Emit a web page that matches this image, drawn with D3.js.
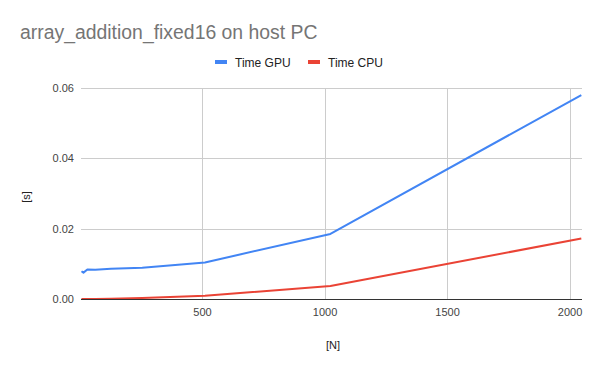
<!DOCTYPE html>
<html>
<head>
<meta charset="utf-8">
<script src="https://cdn.jsdelivr.net/npm/d3@7"></script>
<style>
  body { margin: 0; background: #fff; }
  text { font-family: Arial, "Liberation Sans", sans-serif; }
</style>
</head>
<body>
<svg id="chart" width="600" height="371"></svg>
<script>
// values
var sizes = [8, 16, 32, 64, 128, 256, 512, 1024, 2048];
var timeGpu = [0.0079, 0.0075, 0.0084, 0.0083, 0.0086, 0.0089, 0.0104, 0.0185, 0.0580];
var timeCpu = [0.0000, 0.0000, 0.0000, 0.0000, 0.0001, 0.0003, 0.0009, 0.0037, 0.0172];
var xTicks = [500, 1000, 1500, 2000];
var yTicks = [0, 0.02, 0.04, 0.06];

var series = [
  { name: 'Time GPU', values: timeGpu, color: '#4285f4' },
  { name: 'Time CPU', values: timeCpu, color: '#ea4335' }
];

var svg = d3.select('#chart');

var x = d3.scaleLinear().domain([8, 2048]).range([81.5, 581.3]);
var y = d3.scaleLinear().domain([0, 0.06]).range([299, 88]);

// title
svg.append('text')
  .attr('x', 20).attr('y', 39)
  .attr('font-size', 19.4)
  .attr('fill', '#757575')
  .text('array_addition_fixed16 on host PC');

// gridlines
svg.append('g')
  .selectAll('line.h')
  .data(yTicks.slice(1))
  .enter().append('line')
  .attr('x1', 81).attr('x2', 582)
  .attr('y1', function(d) { return Math.round(y(d)) + 0.5; })
  .attr('y2', function(d) { return Math.round(y(d)) + 0.5; })
  .attr('stroke', '#cccccc');

svg.append('g')
  .selectAll('line.v')
  .data(xTicks)
  .enter().append('line')
  .attr('y1', 88).attr('y2', 299)
  .attr('x1', function(d) { return Math.round(x(d)) + 0.5; })
  .attr('x2', function(d) { return Math.round(x(d)) + 0.5; })
  .attr('stroke', '#cccccc');

// y axis labels
var yAxis = d3.axisLeft(y).tickValues(yTicks).tickFormat(d3.format('.2f')).tickSize(0).tickPadding(7);
var gy = svg.append('g').attr('transform', 'translate(81,0)').call(yAxis);
gy.select('.domain').remove();
gy.selectAll('text').attr('font-size', 11).attr('fill', '#444').attr('font-family', 'Arial, "Liberation Sans", sans-serif');

// x axis
var xAxis = d3.axisBottom(x).tickValues(xTicks).tickFormat(d3.format('d')).tickSize(0).tickPadding(9);
var gx = svg.append('g').attr('transform', 'translate(0,299)').call(xAxis);
gx.select('.domain').remove();
gx.selectAll('text').attr('font-size', 11).attr('fill', '#444').attr('font-family', 'Arial, "Liberation Sans", sans-serif');

// lines
var line = d3.line()
  .x(function(d, i) { return x(sizes[i]); })
  .y(function(d) { return y(d); });

series.slice().reverse().forEach(function(s) {
  svg.append('path')
    .datum(s.values)
    .attr('d', line)
    .attr('fill', 'none')
    .attr('stroke', s.color)
    .attr('stroke-width', 2)
    .attr('stroke-linejoin', 'round');
});

// baseline
svg.append('line')
  .attr('x1', 81).attr('x2', 582)
  .attr('y1', 299.5).attr('y2', 299.5)
  .attr('stroke', '#333').attr('stroke-width', 1);

// axis titles
svg.append('text')
  .attr('x', 333).attr('y', 349)
  .attr('text-anchor', 'middle')
  .attr('font-size', 11).attr('fill', '#222')
  .text('[N]');

svg.append('text')
  .attr('transform', 'translate(30,197) rotate(-90)')
  .attr('text-anchor', 'middle')
  .attr('font-size', 11).attr('fill', '#222')
  .text('[s]');

// legend
var legendX = [215, 308];
series.forEach(function(s, i) {
  var g = svg.append('g').attr('transform', 'translate(' + legendX[i] + ',62)');
  g.append('rect').attr('x', 0).attr('y', -2).attr('width', 12).attr('height', 4).attr('fill', s.color);
  g.append('text').attr('x', 20).attr('y', 4.5)
    .attr('font-size', 12).attr('fill', '#222')
    .text(s.name);
});
</script>
</body>
</html>
